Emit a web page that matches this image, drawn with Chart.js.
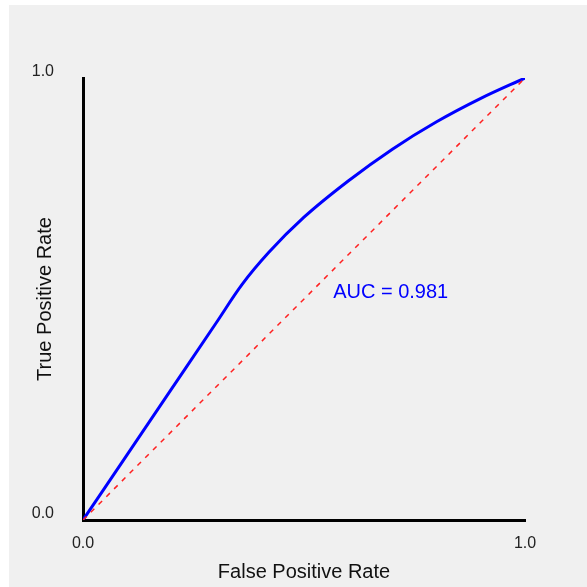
<!DOCTYPE html>
<html>
<head>
<meta charset="utf-8">
<script src="https://cdn.jsdelivr.net/npm/chart.js@4/dist/chart.umd.min.js"></script>
<style>
    html, body { margin: 0; padding: 0; background: #ffffff; }
    #wrap {
        position: absolute;
        left: 9px;
        top: 5px;
        width: 578px;
        height: 582px;
        background: #f0f0f0;
    }
</style>
</head>
<body>
<div id="wrap"><canvas id="roc" width="578" height="582"></canvas></div>
<script>
// roc curve
fpr = [0, 0.1, 0.2, 0.3, 0.36, 0.42, 0.5, 0.6, 0.7, 0.8, 0.9, 1];
tpr = [0, 0.148, 0.296, 0.444, 0.533, 0.605, 0.685, 0.767, 0.839, 0.901, 0.954, 1];
chance_x = [0, 1];
chance_y = [0, 1];
tick_values = [0, 1];
auc_text = "AUC = 0.981";
auc_at = [0.566, 0.514];
x_title = "False Positive Rate";
y_title = "True Positive Rate";

const font_family = "'Liberation Sans', Arial, sans-serif";

document.addEventListener("DOMContentLoaded", function() {
    const auc_label = {
        id: "auc_label",
        afterDatasetsDraw(chart) {
            const ctx = chart.ctx;
            ctx.save();
            ctx.font = `20px ${font_family}`;
            ctx.fillStyle = "#0000ff";
            ctx.textAlign = "left";
            ctx.textBaseline = "middle";
            ctx.fillText(auc_text, chart.scales.x.getPixelForValue(auc_at[0]), chart.scales.y.getPixelForValue(auc_at[1]));
            ctx.restore();
        }
    };

    roc_chart = new Chart(document.getElementById("roc").getContext("2d"), {
        type: "scatter",
        data: {
            datasets: [{
                data: chance_x.map((x, i) => ({x: x, y: chance_y[i]})),
                showLine: true,
                borderColor: "#ff2020",
                borderWidth: 1.5,
                borderDash: [5, 6],
                pointRadius: 0
            }, {
                data: fpr.map((x, i) => ({x: x, y: tpr[i]})),
                showLine: true,
                borderColor: "#0000ff",
                borderWidth: 3,
                cubicInterpolationMode: "monotone",
                pointRadius: 0
            }]
        },
        options: {
            responsive: false,
            animation: false,
            layout: { padding: { left: 0, top: 73, right: 62, bottom: 0 } },
            plugins: { legend: { display: false }, tooltip: { enabled: false } },
            scales: {
                x: {
                    type: "linear",
                    min: 0,
                    max: 1,
                    afterBuildTicks: s => { s.ticks = tick_values.map(v => ({value: v})); },
                    afterFit: s => { s.height = 67; },
                    grid: { display: false, drawTicks: false },
                    border: { display: true, color: "#000000", width: 3 },
                    ticks: {
                        padding: 14,
                        color: "#222222",
                        maxRotation: 0,
                        font: { size: 16, family: font_family },
                        callback: v => v.toFixed(1)
                    },
                    title: {
                        display: true,
                        text: x_title,
                        color: "#111111",
                        padding: { top: 0, bottom: 3 },
                        font: { size: 20, family: font_family }
                    }
                },
                y: {
                    type: "linear",
                    min: 0,
                    max: 1,
                    afterBuildTicks: s => { s.ticks = tick_values.map(v => ({value: v})); },
                    afterFit: s => { s.width = 74; },
                    grid: { display: false, drawTicks: false },
                    border: { display: true, color: "#000000", width: 3 },
                    ticks: {
                        padding: 29,
                        labelOffset: -6,
                        color: "#222222",
                        font: { size: 16, family: font_family },
                        callback: v => v.toFixed(1)
                    },
                    title: {
                        display: true,
                        text: y_title,
                        color: "#111111",
                        padding: { top: 24, bottom: 0 },
                        font: { size: 20, family: font_family }
                    }
                }
            }
        },
        plugins: [auc_label]
    });
});
</script>
</body>
</html>
